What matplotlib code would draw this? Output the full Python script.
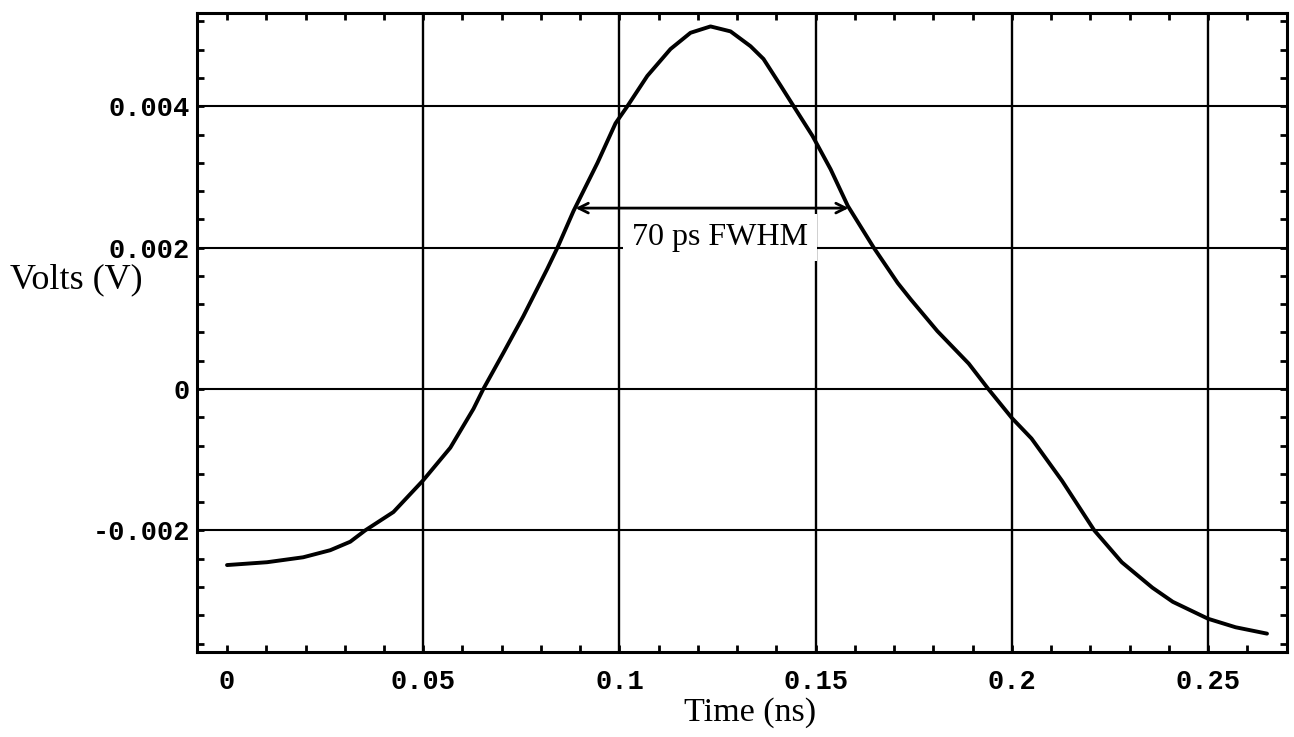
import matplotlib
matplotlib.use("Agg")
import matplotlib.pyplot as plt
from matplotlib.ticker import MultipleLocator, FixedLocator

# ---- data ----
time_ns = [0.0, 0.0102, 0.0194, 0.0263, 0.0314, 0.0352, 0.0424, 0.05, 0.0569,
           0.0628, 0.0653, 0.0704, 0.0755, 0.0816, 0.0842, 0.0883, 0.0944,
           0.099, 0.102, 0.1071, 0.113, 0.1181, 0.1232, 0.1283, 0.1334, 0.1367,
           0.1411, 0.1444, 0.1492, 0.1538, 0.1582, 0.1648, 0.1709, 0.1742,
           0.181, 0.189, 0.194, 0.2, 0.205, 0.2128, 0.221, 0.228, 0.2358,
           0.241, 0.25, 0.257, 0.265]
volts = [-0.00249, -0.00245, -0.00238, -0.00228, -0.00216, -0.00200, -0.00174,
         -0.00129, -0.00083, -0.00028, 0.0, 0.00051, 0.00103, 0.00170, 0.00200,
         0.00252, 0.00320, 0.00376, 0.00400, 0.00443, 0.00481, 0.00504,
         0.00513, 0.00506, 0.00485, 0.00467, 0.00429, 0.00400, 0.00358,
         0.00311, 0.00259, 0.00200, 0.00150, 0.00127, 0.00082, 0.00036, 0.0,
         -0.00041, -0.00070, -0.00130, -0.00200, -0.00245, -0.00281, -0.00301,
         -0.00325, -0.00337, -0.00346]

x_ticks = [0, 0.05, 0.1, 0.15, 0.2, 0.25]
x_tick_labels = ["0", "0.05", "0.1", "0.15", "0.2", "0.25"]
y_ticks = [-0.002, 0, 0.002, 0.004]
y_tick_labels = ["-0.002", "0", "0.002", "0.004"]
x_grid = [0.05, 0.1, 0.15, 0.2, 0.25]
y_grid = [-0.002, 0, 0.002, 0.004]

fwhm_start, fwhm_end, fwhm_level = 0.0888, 0.1584, 0.00256
fwhm_label = "70 ps FWHM"

# ---- figure ----
fig = plt.figure(figsize=(12.94, 7.37), dpi=100)
ax = fig.add_axes([197/1294, 1-652/737, 1090/1294, 639/737])

ax.set_xlim(-0.00765, 0.2701)
ax.set_ylim(-0.00372, 0.00532)

for g in x_grid:
    ax.axvline(g, color="black", lw=1.7, zorder=1)
for g in y_grid:
    ax.axhline(g, color="black", lw=1.5, zorder=1)

ax.plot(time_ns, volts, color="black", lw=2.8, zorder=3,
        solid_joinstyle="round", solid_capstyle="round")

# FWHM arrow and label
ax.annotate("", xy=(fwhm_start, fwhm_level), xytext=(fwhm_end, fwhm_level),
            arrowprops=dict(arrowstyle="<->,head_length=0.7,head_width=0.35",
                            lw=2.0, color="black", shrinkA=0, shrinkB=0),
            zorder=5)
ax.text(0.1256, 0.00214, fwhm_label, ha="center", va="center",
        fontsize=23, family="Liberation Serif", zorder=4,
        bbox=dict(facecolor="white", edgecolor="none", pad=6.5))

# ticks
ax.xaxis.set_major_locator(FixedLocator(x_ticks))
ax.set_xticklabels(x_tick_labels)
ax.yaxis.set_major_locator(FixedLocator(y_ticks))
ax.set_yticklabels(y_tick_labels)
ax.xaxis.set_minor_locator(MultipleLocator(0.01))
ax.yaxis.set_minor_locator(MultipleLocator(0.0004))
ax.tick_params(which="both", direction="in", top=True, right=True,
               length=5, width=2, color="black")
ax.tick_params(axis="x", which="major", pad=12)
ax.tick_params(axis="y", which="major", pad=5)
for lab in ax.get_xticklabels() + ax.get_yticklabels():
    lab.set_family("Liberation Mono")
    lab.set_fontsize(19.5)
    lab.set_weight("bold")

for s in ax.spines.values():
    s.set_linewidth(2.2)

ax.set_xlabel("Time (ns)", fontsize=24.5, family="Liberation Serif")
ax.xaxis.set_label_coords(0.507, -0.0704)
ax.set_ylabel("Volts (V)", fontsize=26, family="Liberation Serif",
              rotation=0, ha="left", va="center")
ax.yaxis.set_label_coords(-0.1716, 0.582)

fig.savefig("out.png", dpi=100)
